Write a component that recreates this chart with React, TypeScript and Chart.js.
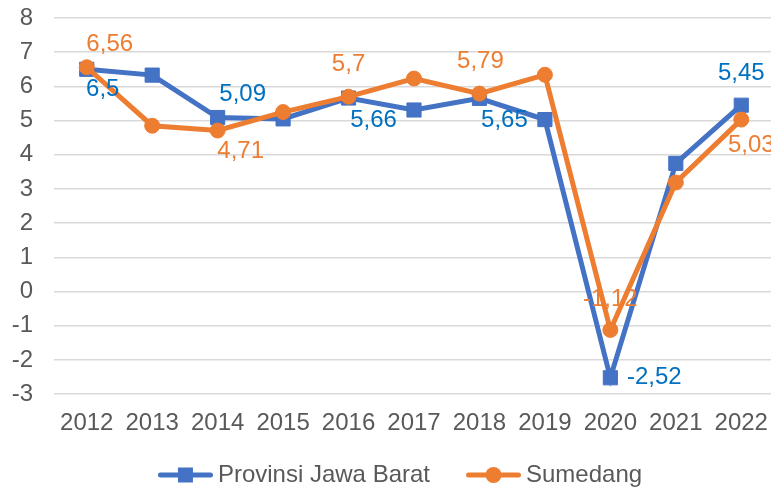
import React, { useEffect, useRef } from 'react';
import { Chart, registerables } from 'chart.js';

Chart.register(...registerables);

const years = ['2012', '2013', '2014', '2015', '2016', '2017', '2018', '2019', '2020', '2021', '2022'];
const jawaBarat = [6.5, 6.33, 5.09, 5.05, 5.66, 5.31, 5.65, 5.03, -2.52, 3.75, 5.45];
const sumedang = [6.56, 4.85, 4.71, 5.25, 5.7, 6.23, 5.79, 6.34, -1.12, 3.19, 5.03];
const yTicks = [-3, -2, -1, 0, 1, 2, 3, 4, 5, 6, 7, 8];

// label offsets (dx, dy) from the point centre; null = no label
const jawaBaratLabelOffsets: ([number, number] | null)[] = [[16, 20], null, [25, -23], null, [25, 22], null, [25, 22], null, [44, 0], null, [0, -32]];
const sumedangLabelOffsets: ([number, number] | null)[] = [[23, -23], null, [23, 21], null, [0, -32], null, [1, -32], null, [0, -31], null, [10, 26]];

const BLUE = '#4472C4';
const BLUE_LABEL = '#0070C0';
const ORANGE = '#ED7D31';
const TEXT = '#595959';
const FONT = "'Liberation Sans', Arial, sans-serif";

function legendIcon(color: string, kind: 'rect' | 'circle'): HTMLCanvasElement {
  const c = document.createElement('canvas');
  c.width = 88;
  c.height = 18;
  const ctx = c.getContext('2d')!;
  ctx.strokeStyle = color;
  ctx.fillStyle = color;
  ctx.lineWidth = 5;
  ctx.lineCap = 'round';
  ctx.beginPath();
  ctx.moveTo(35.5, 9);
  ctx.lineTo(85.5, 9);
  ctx.stroke();
  const cx = 33 + 55 / 2;
  if (kind === 'rect') {
    ctx.fillRect(cx - 7.5, 9 - 7.5, 15, 15);
  } else {
    ctx.beginPath();
    ctx.arc(cx, 9, 8, 0, Math.PI * 2);
    ctx.fill();
  }
  return c;
}

const labelPlugin = {
  id: 'valueLabels',
  afterDatasetsDraw(chart: any) {
    const ctx = chart.ctx;
    const sets = [
      { idx: 0, values: jawaBarat, offsets: jawaBaratLabelOffsets, color: BLUE_LABEL },
      { idx: 1, values: sumedang, offsets: sumedangLabelOffsets, color: ORANGE },
    ];
    ctx.save();
    ctx.font = `24px ${FONT}`;
    ctx.textAlign = 'center';
    ctx.textBaseline = 'middle';
    for (const s of sets) {
      const meta = chart.getDatasetMeta(s.idx);
      s.offsets.forEach((off, i) => {
        if (!off) return;
        const pt = meta.data[i];
        ctx.fillStyle = s.color;
        ctx.fillText(String(s.values[i]).replace('.', ','), pt.x + off[0], pt.y + off[1]);
      });
    }
    ctx.restore();
  },
};

export default function App() {
  const ref = useRef<HTMLCanvasElement>(null);
  useEffect(() => {
    document.body.style.margin = '0';
    const icons = [legendIcon(BLUE, 'rect'), legendIcon(ORANGE, 'circle')];
    const chart = new Chart(ref.current!, {
      type: 'line',
      data: {
        labels: years,
        datasets: [
          {
            label: 'Provinsi Jawa Barat',
            data: jawaBarat,
            borderColor: BLUE,
            backgroundColor: BLUE,
            borderWidth: 5,
            pointStyle: 'rect',
            pointRadius: 10,
            pointBorderWidth: 1,
            pointBorderColor: BLUE,
            pointBackgroundColor: BLUE,
            tension: 0,
            order: 1,
          },
          {
            label: 'Sumedang',
            data: sumedang,
            borderColor: ORANGE,
            backgroundColor: ORANGE,
            borderWidth: 5,
            pointStyle: 'circle',
            pointRadius: 7.5,
            pointBorderWidth: 1,
            pointBorderColor: ORANGE,
            pointBackgroundColor: ORANGE,
            tension: 0,
            order: 0,
          },
        ],
      },
      options: {
        responsive: false,
        animation: false,
        devicePixelRatio: 1,
        layout: { autoPadding: false, padding: { top: 18, left: 0, right: 0, bottom: 0 } },
        scales: {
          x: {
            offset: true,
            afterFit: (s: any) => { s.paddingLeft = 0; s.paddingRight = 0; },
            grid: { display: false, drawTicks: false },
            border: { display: false },
            ticks: { color: TEXT, font: { family: FONT, size: 24 }, padding: 15, maxRotation: 0, autoSkip: false },
          },
          y: {
            min: yTicks[0],
            max: yTicks[yTicks.length - 1],
            afterFit: (s: any) => { s.width = 54; s.paddingTop = 0; s.paddingBottom = 0; },
            afterBuildTicks: (s: any) => { s.ticks = yTicks.map((v) => ({ value: v })); },
            grid: { color: '#D9D9D9', lineWidth: 1.5, drawTicks: false },
            border: { display: false },
            ticks: { color: TEXT, font: { family: FONT, size: 24 }, padding: 21, autoSkip: false },
          },
        },
        plugins: {
          tooltip: { enabled: false },
          legend: {
            position: 'bottom',
            labels: {
              color: TEXT,
              font: { family: FONT, size: 24 },
              usePointStyle: true,
              pointStyleWidth: 74,
              padding: 10,
              sort: (a: any, b: any) => a.datasetIndex - b.datasetIndex,
              generateLabels: (ch: any) => {
                const base = Chart.defaults.plugins.legend.labels.generateLabels(ch);
                return base.map((it: any) => ({ ...it, pointStyle: icons[it.datasetIndex] }));
              },
            },
          },
        },
      },
      plugins: [labelPlugin],
    });
    return () => chart.destroy();
  }, []);
  return (
    <div style={{ position: 'absolute', left: 0, top: 0, width: 771, height: 488, overflow: 'hidden' }}>
      <canvas ref={ref} width={774} height={497} style={{ width: 774, height: 497, display: 'block' }} />
    </div>
  );
}
